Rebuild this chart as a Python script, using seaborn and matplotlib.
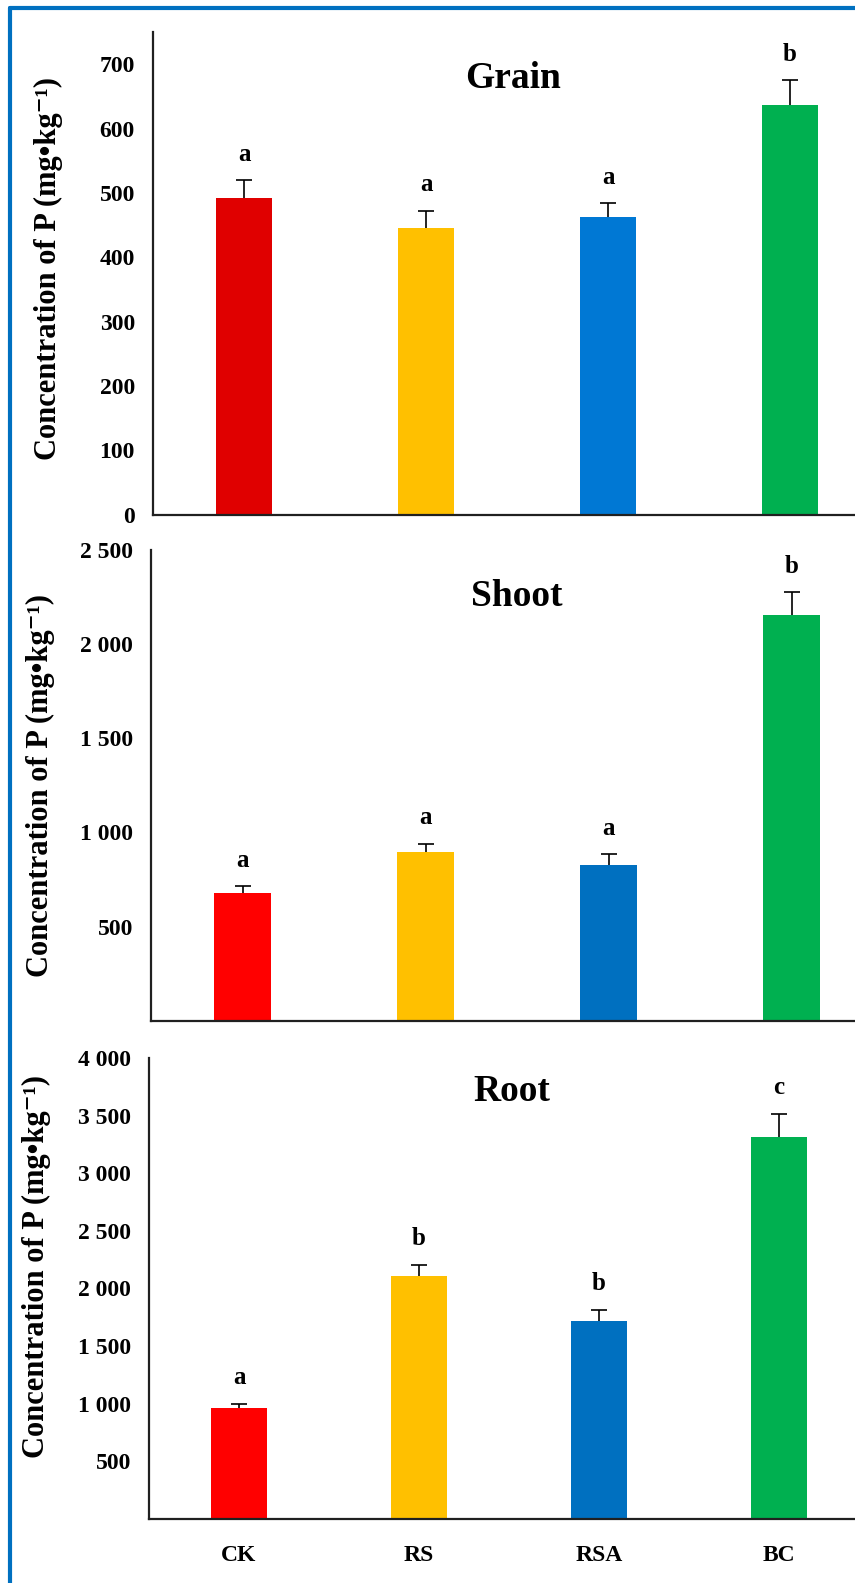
import numpy as np
import pandas as pd
import seaborn as sns
import matplotlib.pyplot as plt
from matplotlib.lines import Line2D
from matplotlib.ticker import FuncFormatter

# Данни
treatments = ['CK', 'RS', 'RSA', 'BC']

grain_mean = [492, 445, 462, 637]
grain_err = [28, 27, 22, 38]
grain_letters = ['a', 'a', 'a', 'b']

shoot_mean = [680, 895, 828, 2155]
shoot_err = [35, 45, 57, 120]
shoot_letters = ['a', 'a', 'a', 'b']

root_mean = [960, 2110, 1715, 3315]
root_err = [40, 95, 100, 200]
root_letters = ['a', 'b', 'b', 'c']

grain_colors = ['#E00000', '#FFC000', '#0078D4', '#00B050']
other_colors = ['#FF0000', '#FFC000', '#0070C0', '#00B050']

sns.set_style('white')
plt.rcParams['font.family'] = ['Liberation Serif', 'DejaVu Serif']
plt.rcParams['font.weight'] = 'bold'
plt.rcParams['text.color'] = 'black'
plt.rcParams['axes.labelcolor'] = 'black'
plt.rcParams['xtick.color'] = 'black'
plt.rcParams['ytick.color'] = 'black'

W, H = 855, 1583
fig = plt.figure(figsize=(W / 100, H / 100), dpi=100)


def px_axes(left, top, bottom, right=W):
    return fig.add_axes([left / W, 1 - bottom / H, (right - left) / W, (bottom - top) / H])


def space_fmt(v, pos):
    return f'{v:,.0f}'.replace(',', ' ')


panels = [
    # title, mean, err, letters, colors, ylim, ticks, axes px (left, top, bottom), title pos, ylabel pos
    ('Grain', grain_mean, grain_err, grain_letters, grain_colors, 750,
     np.arange(0, 701, 100), (153, 32, 514.7), (0.513, 0.903), (-0.128, 0.51)),
    ('Shoot', shoot_mean, shoot_err, shoot_letters, other_colors, 2500,
     np.arange(500, 2501, 500), (151, 550, 1020.7), (0.52, 0.902), (-0.137, 0.50)),
    ('Root', root_mean, root_err, root_letters, other_colors, 4000,
     np.arange(500, 4001, 500), (149, 1058, 1519), (0.514, 0.928), (-0.139, 0.547)),
]

for k, (title, mean, err, letters, colors, ymax, ticks, box, tpos, lpos) in enumerate(panels):
    left, top, bottom = box
    ax = px_axes(left, top, bottom)
    df = pd.DataFrame({'treatment': treatments, 'value': mean})
    sns.barplot(data=df, x='treatment', y='value', hue='treatment', palette=colors,
                width=0.31, legend=False, ax=ax, saturation=1, linewidth=0)

    xs = np.arange(len(treatments))
    _, caps, _ = ax.errorbar(xs, mean, yerr=[np.zeros(len(err)), err], fmt='none',
                             ecolor='black', elinewidth=1.2, capsize=5.5, capthick=1.2)
    caps[0].set_visible(False)

    for x, m, e, lab in zip(xs, mean, err, letters):
        ax.annotate(lab, (x, m + e), xytext=(0, 14), textcoords='offset points',
                    ha='center', va='baseline', fontsize=18, fontweight='bold')

    # ширина на оста до края на фигурата
    spacing = [182, 183, 180][k]
    ax.set_xlim(-0.5, (W - left) / spacing - 0.5)
    ax.set_ylim(0, ymax)
    ax.set_yticks(ticks)
    ax.yaxis.set_major_formatter(FuncFormatter(space_fmt))

    ax.text(tpos[0], tpos[1], title, transform=ax.transAxes, ha='center', va='center',
            fontsize=27, fontweight='bold')

    ax.set_ylabel('Concentration of P (mg•kg⁻¹)', fontsize=22, fontweight='bold')
    ax.yaxis.set_label_coords(lpos[0], lpos[1])
    ax.set_xlabel('')

    for side in ['top', 'right']:
        ax.spines[side].set_visible(False)
    for side in ['left', 'bottom']:
        ax.spines[side].set_color('#202020')
        ax.spines[side].set_linewidth(1.6)

    ax.tick_params(axis='y', direction='in', length=7, width=1.1, color='#202020',
                   pad=13, labelsize=17)
    ax.tick_params(axis='x', length=0, pad=19, labelsize=17)
    if k < 2:
        ax.set_xticklabels([])
    for t in ax.get_yticklabels() + ax.get_xticklabels():
        t.set_fontweight('bold')

# синя рамка
fig.add_artist(Line2D([10 / W, 10 / W], [1 - 8 / H, 0], color='#0070C0', lw=3,
                      transform=fig.transFigure))
fig.add_artist(Line2D([10 / W, 1], [1 - 8 / H, 1 - 8 / H], color='#0070C0', lw=3,
                      transform=fig.transFigure))

fig.savefig('out.png', dpi=100)
plt.close(fig)
